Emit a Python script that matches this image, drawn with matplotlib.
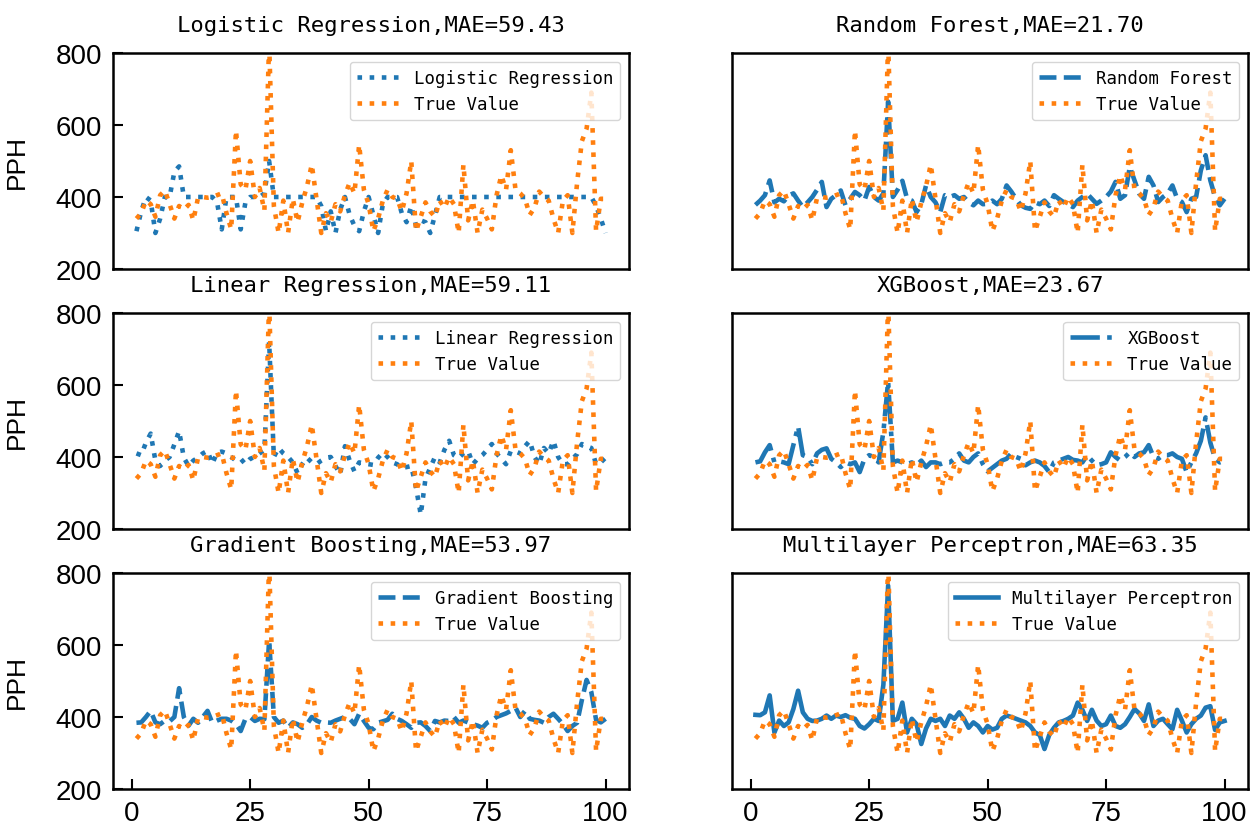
import numpy as np
import matplotlib
matplotlib.use("Agg")
import matplotlib.pyplot as plt

# ---------------- data ----------------
x_index = list(range(1, 101))

true_value = [340, 355, 390, 380, 345, 405, 418, 380, 340, 375,
              365, 378, 335, 398, 400, 398, 400, 405, 410, 355,
              310, 585, 435, 420, 500, 400, 425, 362, 830, 375,
              300, 390, 300, 395, 330, 385, 430, 490, 395, 300,
              355, 330, 380, 360, 405, 440, 410, 545, 420, 380,
              305, 340, 390, 420, 400, 395, 360, 410, 500, 305,
              345, 385, 360, 345, 390, 370, 400, 380, 300, 490,
              335, 390, 300, 365, 340, 310, 405, 460, 420, 530,
              420, 410, 395, 350, 370, 415, 400, 390, 340, 300,
              390, 405, 300, 440, 555, 590, 690, 305, 395, 395]

logistic_pred = [305, 360, 400, 390, 300, 340, 400, 400, 470, 485,
                 400, 400, 400, 400, 400, 400, 400, 386, 310, 400,
                 400, 400, 310, 385, 400, 400, 400, 410, 500, 400,
                 400, 400, 400, 400, 400, 400, 400, 400, 400, 375,
                 305, 360, 300, 365, 400, 350, 320, 305, 360, 400,
                 350, 300, 380, 400, 400, 400, 355, 330, 375, 320,
                 335, 330, 300, 350, 400, 400, 400, 400, 400, 400,
                 400, 400, 400, 400, 400, 400, 400, 400, 400, 400,
                 400, 400, 400, 400, 400, 400, 400, 400, 400, 400,
                 400, 400, 400, 400, 400, 400, 400, 375, 340, 300]

linear_pred = [410, 405, 440, 465, 390, 375, 390, 400, 435, 472,
               398, 375, 390, 398, 410, 417, 381, 412, 415, 410,
               400, 390, 395, 380, 395, 400, 410, 420, 720, 400,
               425, 410, 400, 385, 355, 380, 398, 385, 380, 390,
               398, 400, 375, 352, 430, 390, 360, 385, 382, 380,
               378, 398, 412, 400, 385, 380, 370, 372, 375, 315,
               240, 340, 370, 400, 385, 420, 445, 405, 397, 410,
               417, 380, 395, 405, 420, 436, 410, 395, 380, 417,
               415, 410, 430, 445, 400, 380, 425, 410, 445, 400,
               380, 380, 395, 408, 436, 430, 425, 380, 385, 398]

gb_pred = [384, 385, 400, 417, 385, 380, 390, 388, 400, 480,
           400, 376, 395, 384, 400, 417, 384, 390, 395, 395,
           390, 380, 361, 395, 400, 389, 395, 394, 613, 400,
           384, 390, 370, 385, 380, 370, 380, 400, 390, 384,
           385, 384, 390, 395, 400, 395, 380, 409, 389, 370,
           366, 384, 388, 392, 409, 395, 389, 380, 370, 384,
           385, 375, 361, 389, 385, 390, 389, 400, 384, 390,
           385, 380, 376, 370, 384, 390, 400, 405, 410, 417,
           426, 400, 417, 395, 392, 390, 384, 400, 409, 395,
           380, 361, 375, 384, 447, 503, 469, 392, 385, 395]

rf_pred = [378, 390, 405, 446, 385, 395, 388, 404, 410, 390,
           372, 385, 400, 420, 442, 372, 395, 405, 418, 377,
           395, 414, 405, 390, 428, 400, 390, 410, 665, 400,
           420, 445, 395, 390, 358, 380, 432, 400, 385, 358,
           405, 400, 405, 395, 400, 385, 377, 390, 380, 381,
           390, 380, 395, 432, 415, 395, 377, 370, 367, 385,
           380, 390, 375, 405, 395, 386, 380, 372, 390, 400,
           409, 395, 381, 390, 400, 415, 442, 395, 405, 484,
           446, 409, 395, 456, 432, 386, 400, 410, 432, 395,
           386, 358, 395, 400, 474, 516, 446, 400, 377, 395]

xgb_pred = [385, 388, 413, 433, 385, 388, 385, 380, 433, 485,
            405, 400, 380, 410, 420, 424, 395, 385, 372, 385,
            380, 385, 358, 395, 405, 400, 385, 470, 610, 385,
            390, 385, 380, 385, 377, 390, 372, 385, 385, 380,
            385, 385, 395, 410, 390, 385, 400, 410, 380, 360,
            370, 380, 390, 395, 410, 400, 395, 377, 385, 390,
            385, 375, 358, 385, 390, 395, 400, 392, 390, 385,
            405, 390, 377, 380, 385, 413, 400, 390, 400, 413,
            400, 410, 413, 433, 400, 395, 405, 405, 410, 400,
            395, 358, 385, 410, 445, 510, 440, 395, 385, 390]

mlp_pred = [406, 405, 413, 460, 357, 390, 375, 385, 422, 473,
            413, 395, 389, 390, 395, 404, 395, 404, 400, 405,
            398, 395, 375, 368, 380, 395, 389, 490, 765, 389,
            395, 440, 357, 395, 380, 325, 368, 395, 389, 395,
            375, 404, 395, 413, 395, 370, 385, 375, 357, 375,
            365, 370, 395, 404, 400, 395, 390, 385, 375, 357,
            350, 311, 350, 370, 385, 389, 395, 404, 440, 420,
            389, 420, 390, 375, 380, 404, 375, 370, 380, 400,
            422, 410, 389, 435, 375, 390, 395, 380, 366, 420,
            390, 357, 380, 395, 404, 426, 430, 364, 385, 389]

model_names = ["Logistic Regression", "Random Forest", "Linear Regression",
               "XGBoost", "Gradient Boosting", "Multilayer Perceptron"]
mae_values = [59.43, 21.70, 59.11, 23.67, 53.97, 63.35]
predictions = [logistic_pred, rf_pred, linear_pred, xgb_pred, gb_pred, mlp_pred]
line_styles = [":", "--", ":", "-.", "--", "-"]

y_ticks = [200, 400, 600, 800]
x_ticks = [0, 25, 50, 75, 100]

# ---------------- plotting ----------------
plt.rcParams['font.family'] = ['Liberation Sans', 'DejaVu Sans']
mono = 'DejaVu Sans Mono'

fig, axes = plt.subplots(3, 2, figsize=(12.5, 8.28), dpi=100)
fig.subplots_adjust(left=0.0904, right=0.9984, top=0.9348, bottom=0.0459,
                    wspace=0.1996, hspace=0.2037)

blue = '#1f77b4'
orange = '#ff7f0e'
lw = 3.3

for i, ax in enumerate(axes.flat):
    row, col = divmod(i, 2)
    ax.plot(x_index, predictions[i], color=blue, ls=line_styles[i], lw=lw,
            label=model_names[i])
    ax.plot(x_index, true_value, color=orange, ls=':', lw=lw, label='True Value')
    ax.set_ylim(200, 800)
    ax.set_title(f"{model_names[i]},MAE={mae_values[i]:.2f}",
                 family=mono, fontsize=16, pad=16)
    ax.legend(loc='upper right', prop={'family': mono, 'size': 12.5},
              handlelength=2.5)
    for sp in ax.spines.values():
        sp.set_linewidth(1.8)
    ax.tick_params(direction='in', length=7, width=1.5, labelsize=20, pad=8)
    if col == 0:
        ax.set_yticks(y_ticks)
        ax.set_ylabel('PPH', fontsize=19)
        ax.yaxis.set_label_coords(-0.163, 0.5)
    else:
        ax.set_yticks([])
    if row == 2:
        ax.set_xticks(x_ticks)
    else:
        ax.set_xticks([])

fig.savefig('out.png', dpi=100)
